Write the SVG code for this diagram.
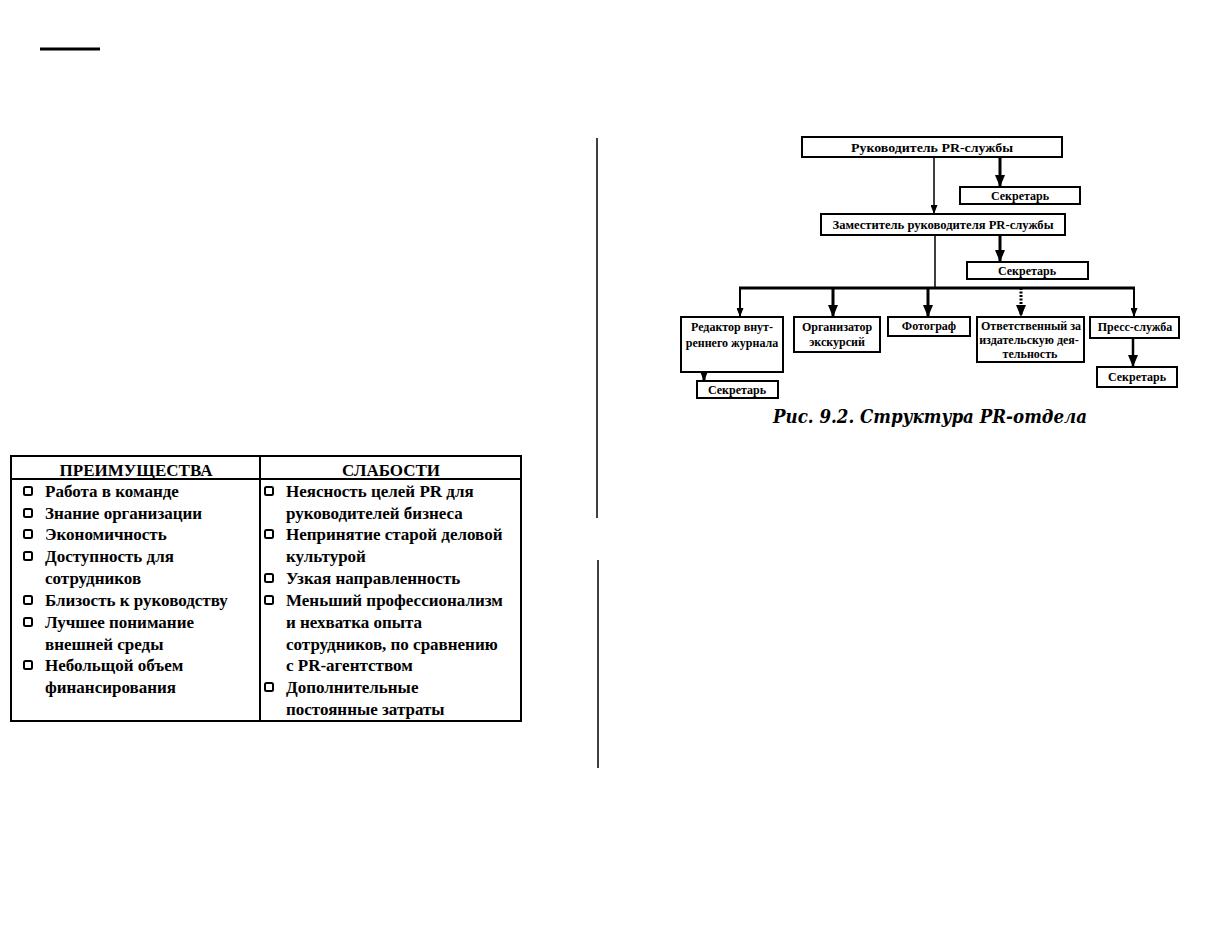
<svg xmlns="http://www.w3.org/2000/svg" width="1205" height="948" viewBox="0 0 1205 948">
<style>
.box{fill:#fff;stroke:#000;stroke-width:2}
.t{font-family:"Liberation Serif","Times New Roman",serif;font-weight:bold;fill:#000}
.oc{font-size:12px;text-anchor:middle}
.tb{font-size:17px}
.bul{fill:none;stroke:#000;stroke-width:2}
.ln{stroke:#000;fill:none}
</style>
<defs>
<marker id="ahb" markerUnits="userSpaceOnUse" markerWidth="12" markerHeight="10" refX="12" refY="5" orient="auto"><path d="M0,0 L12,5 L0,10 z" fill="#000"/></marker>
<marker id="ahs" markerUnits="userSpaceOnUse" markerWidth="9" markerHeight="7" refX="9" refY="3.5" orient="auto"><path d="M0,0 L9,3.5 L0,7 z" fill="#000"/></marker>
</defs>
<line x1="40" y1="49" x2="100" y2="49" stroke="#000" stroke-width="3"/>
<line x1="597" y1="138" x2="597" y2="518" stroke="#000" stroke-width="1.5"/>
<line x1="598" y1="560" x2="598" y2="768" stroke="#000" stroke-width="1.5"/>
<g id="connectors">
<line class="ln" x1="934" y1="157" x2="934" y2="214" stroke-width="1.5" marker-end="url(#ahs)"/>
<line class="ln" x1="1000" y1="157" x2="1000" y2="187" stroke-width="3" marker-end="url(#ahb)"/>
<line class="ln" x1="935" y1="235" x2="935" y2="288" stroke-width="1.5"/>
<line class="ln" x1="1000" y1="235" x2="1000" y2="262" stroke-width="3" marker-end="url(#ahb)"/>
<line class="ln" x1="739" y1="288" x2="1135" y2="288" stroke-width="3"/>
<line class="ln" x1="740" y1="288" x2="740" y2="317" stroke-width="2" marker-end="url(#ahs)"/>
<line class="ln" x1="833" y1="288" x2="833" y2="317" stroke-width="3" marker-end="url(#ahb)"/>
<line class="ln" x1="928" y1="288" x2="928" y2="317" stroke-width="3" marker-end="url(#ahb)"/>
<line class="ln" x1="1021" y1="288" x2="1021" y2="317" stroke-width="3" stroke-dasharray="2,1.5" marker-end="url(#ahb)"/>
<line class="ln" x1="1134" y1="288" x2="1134" y2="317" stroke-width="2" marker-end="url(#ahs)"/>
<line class="ln" x1="704" y1="372" x2="704" y2="381" stroke-width="3" marker-end="url(#ahb)"/>
<line class="ln" x1="1133" y1="338" x2="1133" y2="367" stroke-width="2.5" marker-end="url(#ahb)"/>
</g>
<g id="head"><rect class="box" x="802" y="137" width="260" height="20"/><text class="t oc" x="932" y="152" font-size="14" textLength="162" lengthAdjust="spacingAndGlyphs">Руководитель PR-службы</text></g>
<g id="sec1"><rect class="box" x="960" y="187" width="120" height="17"/><text class="t oc" x="1020" y="200" font-size="11">Секретарь</text></g>
<g id="deputy"><rect class="box" x="821" y="214" width="244" height="21"/><text class="t oc" x="943" y="229" font-size="11.5" textLength="221" lengthAdjust="spacingAndGlyphs">Заместитель руководителя  PR-службы</text></g>
<g id="sec2"><rect class="box" x="967" y="262" width="121" height="17"/><text class="t oc" x="1027" y="275" font-size="11">Секретарь</text></g>
<g id="editor"><rect class="box" x="681" y="317" width="102" height="55"/><text class="t oc" x="732" y="331" font-size="11">Редактор внут-</text><text class="t oc" x="732" y="347" font-size="11">реннего журнала</text></g>
<g id="excursion"><rect class="box" x="794" y="317" width="86" height="35"/><text class="t oc" x="837" y="331" font-size="11">Организатор</text><text class="t oc" x="837" y="346" font-size="11">экскурсий</text></g>
<g id="photo"><rect class="box" x="888" y="317" width="82" height="19"/><text class="t oc" x="929" y="330" font-size="11">Фотограф</text></g>
<g id="publishing"><rect class="box" x="977" y="317" width="107" height="45"/><text class="t oc" x="1031" y="330" font-size="11">Ответственный за</text><text class="t oc" x="1029" y="344" font-size="11">издательскую дея-</text><text class="t oc" x="1030" y="358" font-size="10">тельность</text></g>
<g id="press"><rect class="box" x="1090" y="317" width="89" height="21"/><text class="t oc" x="1135" y="331" font-size="11">Пресс-служба</text></g>
<g id="sec3"><rect class="box" x="697" y="381" width="81" height="17"/><text class="t oc" x="737" y="394" font-size="11">Секретарь</text></g>
<g id="sec4"><rect class="box" x="1097" y="367" width="80" height="20"/><text class="t oc" x="1137" y="381" font-size="11">Секретарь</text></g>
<text x="773" y="423" font-family="'DejaVu Serif',serif" font-style="italic" font-weight="bold" font-size="18" textLength="314" lengthAdjust="spacingAndGlyphs" fill="#000">Рис. 9.2. Структура PR-отдела</text>
<g id="table">
<rect x="11" y="456" width="510" height="265" fill="none" stroke="#000" stroke-width="2"/>
<line x1="11" y1="479" x2="521" y2="479" stroke="#000" stroke-width="2"/>
<line x1="260" y1="456" x2="260" y2="721" stroke="#000" stroke-width="2"/>
<text class="t tb" x="136" y="476" text-anchor="middle">ПРЕИМУЩЕСТВА</text>
<text class="t tb" x="391" y="476" text-anchor="middle">СЛАБОСТИ</text>
<g class="t tb">
<text x="45" y="497">Работа в команде</text>
<text x="45" y="519">Знание организации</text>
<text x="45" y="540">Экономичность</text>
<text x="45" y="562">Доступность для</text>
<text x="45" y="584">сотрудников</text>
<text x="45" y="606">Близость к руководству</text>
<text x="45" y="628">Лучшее понимание</text>
<text x="45" y="650">внешней среды</text>
<text x="45" y="671">Небольщой объем</text>
<text x="45" y="693">финансирования</text>
<text x="286" y="497">Неясность целей PR для</text>
<text x="286" y="519">руководителей бизнеса</text>
<text x="286" y="540">Непринятие старой деловой</text>
<text x="286" y="562">культурой</text>
<text x="286" y="584">Узкая направленность</text>
<text x="286" y="606">Меньший профессионализм</text>
<text x="286" y="628">и нехватка опыта</text>
<text x="286" y="650">сотрудников, по сравнению</text>
<text x="286" y="671">с PR-агентством</text>
<text x="286" y="693">Дополнительные</text>
<text x="286" y="715">постоянные затраты</text>
</g>
<g class="bul">
<rect x="24" y="487" width="8" height="8" rx="1.5"/>
<rect x="24" y="509" width="8" height="8" rx="1.5"/>
<rect x="24" y="530" width="8" height="8" rx="1.5"/>
<rect x="24" y="552" width="8" height="8" rx="1.5"/>
<rect x="24" y="596" width="8" height="8" rx="1.5"/>
<rect x="24" y="618" width="8" height="8" rx="1.5"/>
<rect x="24" y="661" width="8" height="8" rx="1.5"/>
<rect x="265" y="487" width="8" height="8" rx="1.5"/>
<rect x="265" y="530" width="8" height="8" rx="1.5"/>
<rect x="265" y="574" width="8" height="8" rx="1.5"/>
<rect x="265" y="596" width="8" height="8" rx="1.5"/>
<rect x="265" y="683" width="8" height="8" rx="1.5"/>
</g>
</g>
</svg>
